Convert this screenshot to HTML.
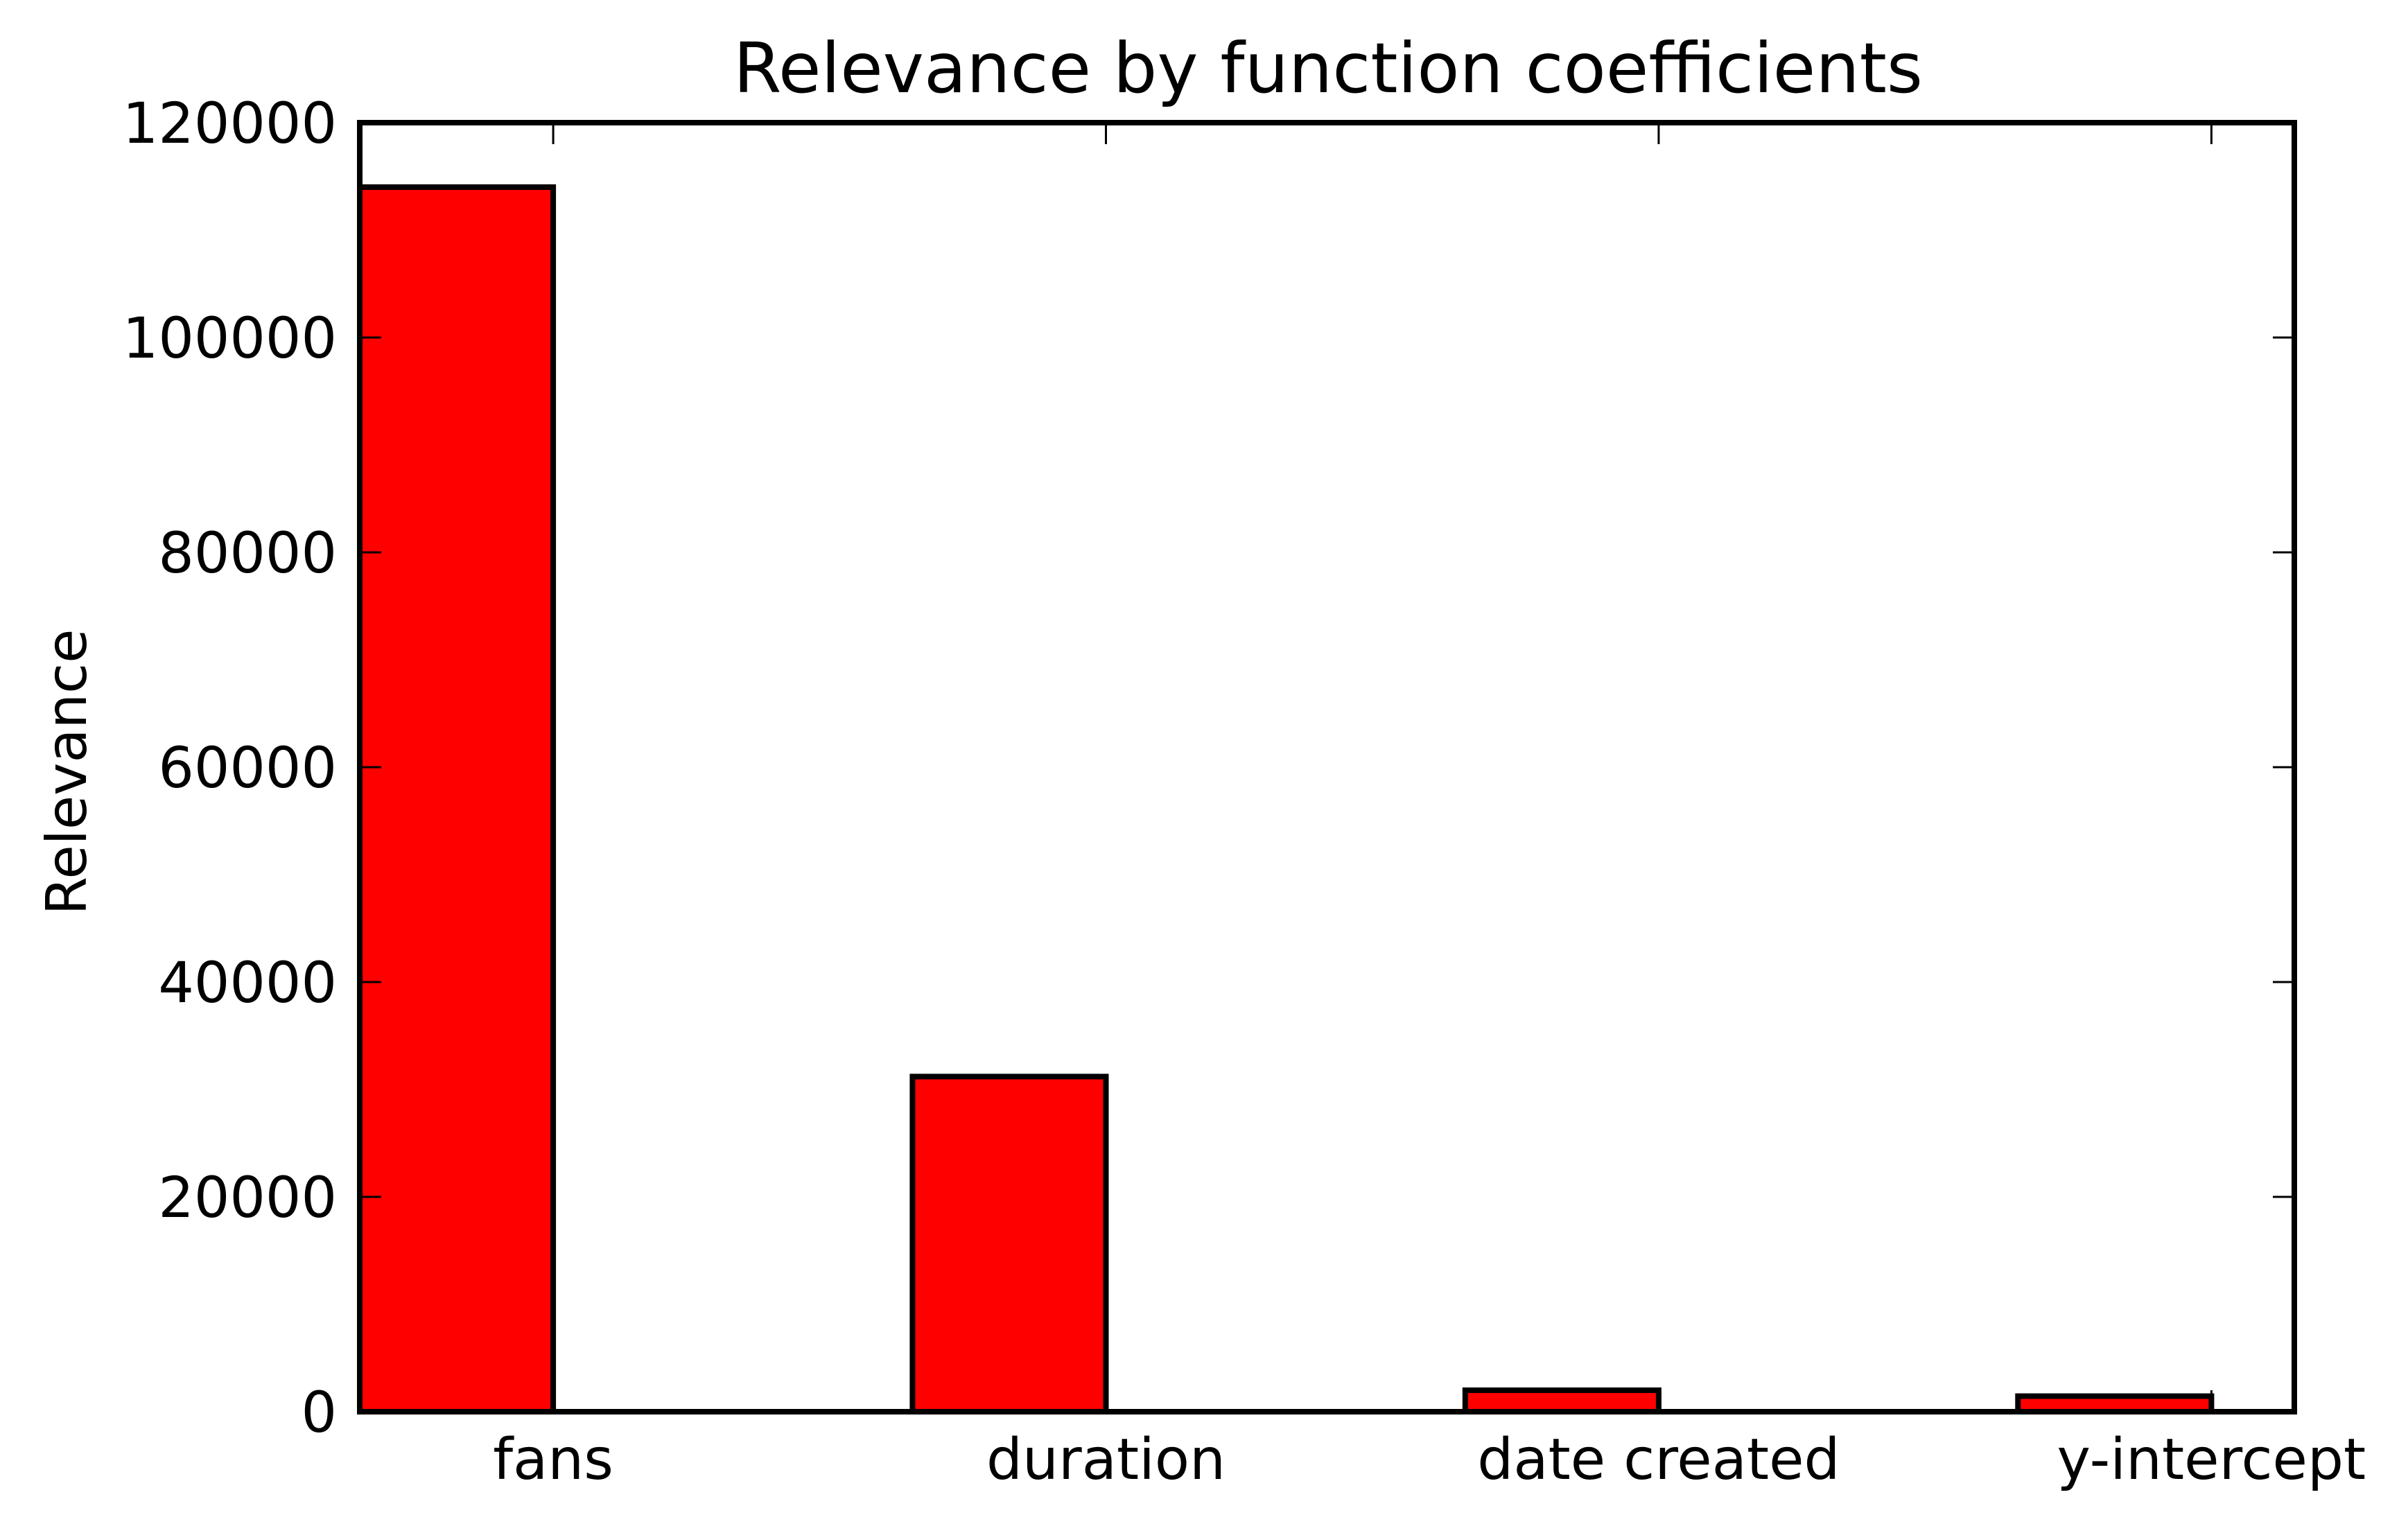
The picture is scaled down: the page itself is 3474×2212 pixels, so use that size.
<!DOCTYPE html>
<html><head><meta charset="utf-8"><style>
html,body{margin:0;padding:0;background:#fff;}
svg{display:block;}
text{font-family:"DejaVu Sans","Liberation Sans",sans-serif;fill:#000;}
</style></head><body>
<svg id="chart" width="3474" height="2212" viewBox="0 0 3474 2212" xmlns="http://www.w3.org/2000/svg">
<text x="1916" y="133" font-size="100" text-anchor="middle">Relevance by function coefficients</text>
<text transform="translate(124,1114) rotate(-90)" font-size="80" text-anchor="middle">Relevance</text>
<g id="plot"></g>
</svg>
<script>
const categories = ["fans", "duration", "date created", "y-intercept"];
const values = [114000, 31200, 2000, 1450];
const yTicks = [0, 20000, 40000, 60000, 80000, 100000, 120000];
const yTickLabels = ["0", "20000", "40000", "60000", "80000", "100000", "120000"];

const L = 519, R = 3310, T = 177, B = 2037;
const xMin = 0, xMax = 3.5, yMin = 0, yMax = 120000, barW = 0.35;
const xs = v => L + (v - xMin) / (xMax - xMin) * (R - L);
const ys = v => B - (v - yMin) / (yMax - yMin) * (B - T);
const NS = "http://www.w3.org/2000/svg";
const g = document.getElementById("plot");
function mk(tag, attrs) { const e = document.createElementNS(NS, tag); for (const k in attrs) e.setAttribute(k, attrs[k]); g.appendChild(e); return e; }

categories.forEach((c, i) => {
  const x0 = xs(i), x1 = xs(i + barW), y = ys(values[i]);
  const r = mk("rect", {x: x0, y: y, width: x1 - x0, height: ys(0) - y, fill: "#ff0000", stroke: "#000", "stroke-width": 8});
  
  
  const tx = xs(i + barW);
  const t1 = mk("line", {x1: tx, x2: tx, y1: B, y2: B - 31, stroke: "#000", "stroke-width": 3});
  
  
  const t2 = mk("line", {x1: tx, x2: tx, y1: T, y2: T + 31, stroke: "#000", "stroke-width": 3});
  
  
  const lb = mk("text", {x: tx, y: 2134, "font-size": 82, "text-anchor": "middle"});
  lb.textContent = c;
  
  
});

yTicks.forEach((v, i) => {
  const y = ys(v);
  const a = mk("line", {x1: L, x2: L + 31, y1: y, y2: y, stroke: "#000", "stroke-width": 3});
  
  
  const b = mk("line", {x1: R, x2: R - 31, y1: y, y2: y, stroke: "#000", "stroke-width": 3});
  
  
  const lb = mk("text", {x: 486, y: y + 29, "font-size": 81, "text-anchor": "end"});
  lb.textContent = yTickLabels[i];
  
  
});

const frame = mk("rect", {x: L, y: T, width: R - L, height: B - T, fill: "none", stroke: "#000", "stroke-width": 8});


</script>
</body></html>
